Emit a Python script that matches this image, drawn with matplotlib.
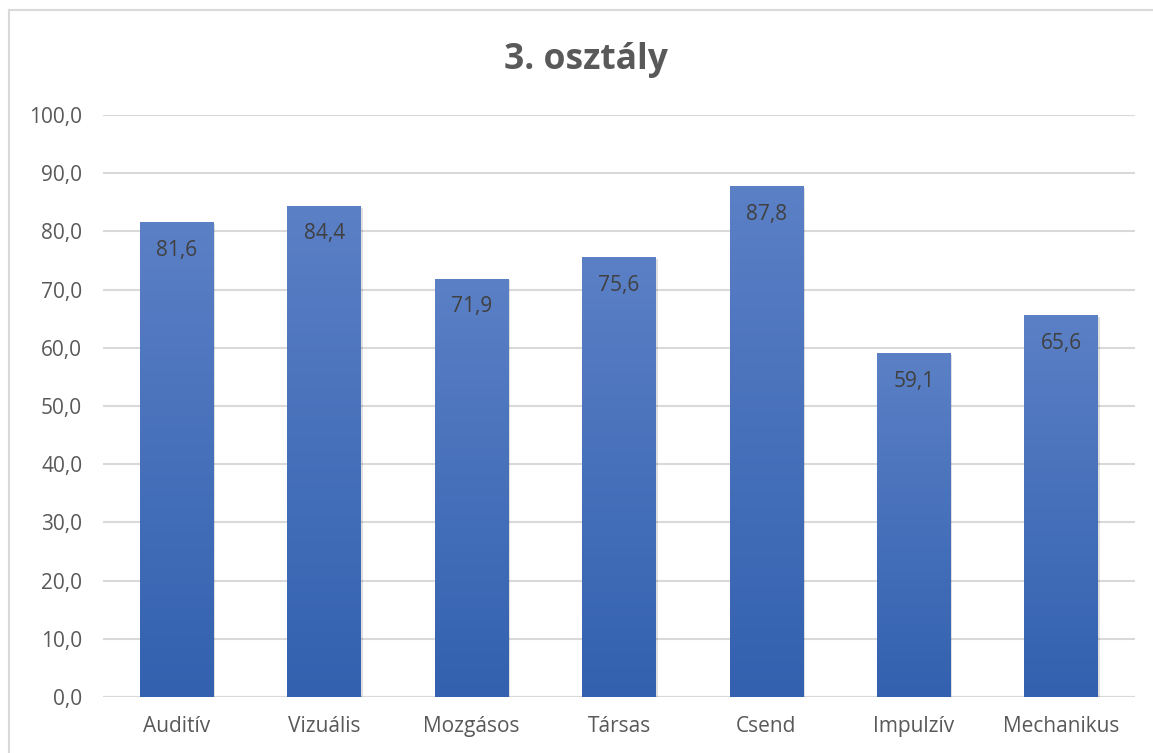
import matplotlib
matplotlib.use('Agg')
import matplotlib.pyplot as plt
from matplotlib.colors import LinearSegmentedColormap
from matplotlib.patches import Rectangle
from matplotlib.ticker import FuncFormatter
import numpy as np

categories = ['Auditív', 'Vizuális', 'Mozgásos', 'Társas', 'Csend', 'Impulzív', 'Mechanikus']
values = [81.6, 84.4, 71.9, 75.6, 87.8, 59.1, 65.6]
title = '3. osztály'

plt.rcParams['font.family'] = ['Open Sans', 'DejaVu Sans']

fig = plt.figure(figsize=(11.53, 7.53), dpi=100)
ax = fig.add_axes([103 / 1153, 1 - 697 / 753, 1032 / 1153, 582 / 753])

# light outer frame (top and left edges visible)
fig.add_artist(plt.Line2D([9 / 1153, 9 / 1153], [0, 1 - 10 / 753], transform=fig.transFigure,
                          color='#D9D9D9', lw=1.5))
fig.add_artist(plt.Line2D([9 / 1153, 1], [1 - 10 / 753, 1 - 10 / 753], transform=fig.transFigure,
                          color='#D9D9D9', lw=1.5))

x = np.arange(len(categories))
width = 0.5
grad = LinearSegmentedColormap.from_list('bluegrad', ['#3361AF', '#4670BA', '#5B80C6'])
bars = ax.bar(x, values, width=width, color='none', edgecolor='none', zorder=3)

for b, v in zip(bars, values):
    # soft shadow behind each bar
    sh = Rectangle((b.get_x() + 0.012, 0), b.get_width(), v - 0.3, facecolor='#000000',
                   alpha=0.12, edgecolor='none', zorder=2)
    ax.add_patch(sh)
    grid = np.linspace(0, 1, 256).reshape(-1, 1)
    im = ax.imshow(grid, cmap=grad, origin='lower', aspect='auto',
                   extent=[b.get_x(), b.get_x() + b.get_width(), 0, v], zorder=3)
    im.set_clip_path(b)
    ax.annotate(f'{v:.1f}'.replace('.', ','), (b.get_x() + b.get_width() / 2, v),
                xytext=(0, -28), textcoords='offset pixels', ha='center', va='center',
                fontsize=15, color='#404040', zorder=4)

ax.set_xlim(-0.5, len(categories) - 0.5)
ax.set_ylim(0, 100)
ax.set_yticks(np.arange(0, 101, 10))
ax.yaxis.set_major_formatter(FuncFormatter(lambda v, p: f'{v:.1f}'.replace('.', ',')))
ax.set_xticks(x, labels=categories)
ax.tick_params(axis='both', length=0, labelsize=15, labelcolor='#595959')
ax.tick_params(axis='y', pad=15)
ax.tick_params(axis='x', pad=14)
ax.yaxis.grid(True, color='#D9D9D9', lw=1.5, zorder=0)
ax.set_axisbelow(True)
for s in ax.spines.values():
    s.set_visible(False)
ax.axhline(0, color='#D9D9D9', lw=1.5, zorder=1)

fig.text(586 / 1153, 1 - 60 / 753, title, ha='center', va='center', fontsize=25.5,
         fontweight='bold', color='#595959')

fig.savefig('out.png', dpi=100)
